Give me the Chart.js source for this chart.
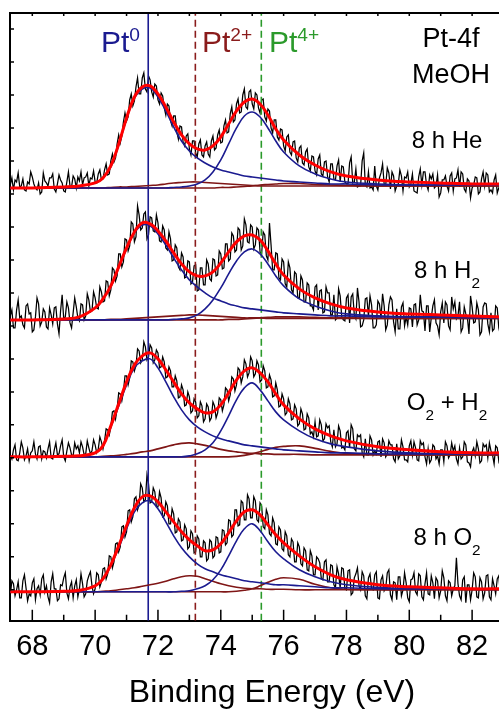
<!DOCTYPE html>
<html>
<head>
<meta charset="utf-8">
<script src="https://cdn.jsdelivr.net/npm/chart.js@4.4.1/dist/chart.umd.min.js"></script>
<style>
  html, body { margin: 0; padding: 0; background: #fff; overflow: hidden; }
  #wrap { width: 499px; height: 715px; overflow: hidden; }
</style>
</head>
<body>
<div id="wrap"><canvas id="chart" width="534" height="715"></canvas></div>
<script>
const FONT = "'Liberation Sans', Arial, Helvetica, sans-serif";

// x axis
const xMin = 67.29;
const xMax = 83.97;
const majorTicks = [68, 70, 72, 74, 76, 78, 80, 82];
const minorTicks = [69, 71, 73, 75, 77, 79, 81, 83];
const yTickValues = [31, 64, 97, 130, 163, 196, 229, 262, 295, 328, 361, 394, 427, 460, 493, 526, 559, 592];

// reference binding energies
const refLines = [
    { e: 71.69, color: '#1b1b90', dash: [] },
    { e: 73.19, color: '#8a1c1c', dash: [7, 4] },
    { e: 75.29, color: '#2b9a2b', dash: [7, 4] }
];

// vertical offset of each spectrum (top to bottom)
const panelOffsets = [433, 301, 164, 29];

// measured spectra, 0.05 eV steps from 67.3 eV
const dataStart = 67.3;
const dataStep = 0.05;

const heData = [
    3, 10, -2, 8, 6, 15, 1, 2, 9, -2,
    -3, 6, 4, 16, 11, 4, 0, -2, 5, -6,
    -4, 15, 7, 5, 2, 10, 10, 14, -1, -4,
    4, 13, 8, 5, -3, -4, 6, 16, 2, 1,
    12, 9, 0, 11, 7, 16, 3, 10, 11, 15,
    2, 10, 9, 17, 6, 5, 14, 18, 8, 9,
    18, 24, 13, 14, 27, 34, 26, 30, 44, 53,
    45, 52, 66, 75, 67, 71, 88, 94, 82, 87,
    101, 110, 94, 94, 110, 115, 99, 96, 112, 108,
    96, 91, 104, 102, 88, 84, 95, 92, 80, 73,
    84, 82, 67, 62, 72, 72, 56, 49, 62, 61,
    46, 42, 52, 54, 39, 33, 47, 47, 35, 31,
    44, 48, 33, 31, 42, 46, 34, 31, 47, 52,
    38, 40, 53, 58, 45, 46, 62, 68, 55, 56,
    74, 81, 66, 68, 84, 89, 75, 76, 93, 99,
    81, 79, 96, 98, 84, 79, 95, 93, 80, 75,
    88, 89, 71, 67, 79, 77, 60, 55, 68, 68,
    51, 48, 59, 58, 42, 37, 51, 53, 36, 33,
    46, 47, 30, 26, 40, 42, 25, 23, 36, 39,
    21, 17, 32, 31, 17, 13, 29, 33, 14, 12,
    26, 27, 11, 6, 24, 24, 9, 8, 22, 28,
    6, 22, 21, 6, 4, 4, 25, 31, 5, 6,
    19, 1, 2, 2, 27, 35, 3, 1, 16, 0,
    1, -2, 22, 2, -2, 10, 15, 24, 4, 3,
    20, 15, -1, 16, 12, -3, 2, 4, 18, 12,
    -3, 11, 10, 16, 1, 4, 14, -3, -4, -5,
    11, 19, 3, 16, 16, 3, -2, 13, 9, 14,
    0, 2, 13, -9, -5, 8, 8, 12, 2, -3,
    12, 15, -3, 9, 10, 18, 1, 16, 14, -1,
    -4, 9, 7, -10, 0, 3, 11, 10, -6, -4,
    9, 16, 2, 15, 13, -4, -2, -5, 8, 13,
    -5, 0, 10, 15, 3
];
const h2Data = [
    4, 10, -8, -8, 10, 20, 2, 4, -5, -8,
    14, 16, 6, 7, -12, -10, 3, 22, 16, -6,
    -2, 11, 8, -7, -9, 12, 5, -4, 12, 13,
    -4, -14, 9, 25, 1, 3, 18, 12, -3, -8,
    7, 22, 13, 2, -1, 16, 15, 0, 4, 26,
    20, 8, 9, 28, 22, 12, 11, 33, 28, 18,
    19, 39, 38, 24, 30, 52, 50, 39, 44, 66,
    66, 53, 58, 81, 80, 69, 74, 98, 96, 78,
    83, 114, 105, 90, 92, 106, 108, 81, 85, 103,
    102, 89, 88, 105, 97, 79, 78, 94, 90, 72,
    70, 88, 81, 59, 60, 75, 72, 53, 50, 67,
    63, 42, 43, 59, 58, 36, 38, 54, 55, 29,
    30, 52, 52, 35, 35, 60, 56, 41, 39, 61,
    60, 44, 45, 69, 66, 51, 52, 76, 76, 59,
    61, 87, 84, 68, 70, 92, 90, 70, 74, 101,
    95, 78, 77, 95, 93, 71, 75, 92, 90, 68,
    66, 88, 85, 64, 60, 97, 75, 50, 50, 67,
    66, 42, 40, 61, 58, 36, 33, 58, 52, 30,
    27, 48, 46, 22, 22, 44, 40, 18, 18, 37,
    35, 14, 14, 10, 33, 35, 10, 29, 30, 7,
    8, 33, 27, 27, 5, 5, 25, 0, 2, 31,
    24, 3, 0, -1, 22, 25, -3, 23, 26, 5,
    1, 32, 18, -7, -6, 0, 21, 22, 4, 24,
    15, -8, -8, -5, 19, 16, 2, 26, 14, -10,
    -5, 15, 23, 20, -2, -12, 11, -9, -9, 13,
    17, -6, 3, -5, 12, 11, -7, 15, 16, -5,
    0, 25, 9, 8, -11, 14, 14, -12, 2, 14,
    20, -3, -6, -15, 8, 17, -3, 18, 15, -6,
    -10, 23, 11, 18, 1, 4, 18, -12, -8, 13,
    6, 2, -14, 24, 13, -3, -2, 17, 10, -15,
    -12, 13, 17, 16, -4, -12, 7, -11, -9, 14,
    12, -8, -15, 9, 5
];
const o2h2Data = [
    2, -2, 7, 12, -3, -4, 4, 15, 9, -3,
    1, 8, -4, 4, 6, 15, 3, -2, 10, 11,
    -2, 6, 5, -1, 8, 15, -1, -2, 7, 14,
    2, 3, 11, 17, 0, -4, 6, 14, 9, 2,
    1, 14, 8, 11, 4, 15, 10, 2, 3, 16,
    9, 3, 6, 17, 12, 4, 8, 20, 15, 8,
    16, 28, 27, 22, 30, 45, 46, 38, 48, 64,
    63, 56, 65, 81, 81, 72, 79, 96, 95, 86,
    91, 108, 106, 94, 97, 115, 110, 97, 100, 112,
    109, 94, 97, 107, 104, 89, 90, 100, 95, 79,
    80, 90, 86, 70, 70, 81, 76, 59, 60, 72,
    67, 51, 52, 65, 60, 44, 46, 58, 55, 39,
    41, 55, 51, 35, 38, 53, 50, 36, 39, 55,
    51, 39, 44, 59, 57, 46, 52, 69, 67, 56,
    62, 80, 78, 66, 72, 89, 87, 74, 80, 97,
    93, 80, 84, 100, 96, 80, 83, 96, 92, 75,
    77, 91, 86, 69, 70, 82, 77, 60, 61, 74,
    67, 50, 51, 63, 58, 42, 44, 58, 53, 37,
    38, 52, 48, 31, 33, 48, 43, 27, 28, 43,
    39, 23, 25, 20, 35, 20, 21, 37, 32, 16,
    18, 33, 29, 31, 15, 10, 27, 10, 13, 31,
    26, 9, 10, 7, 24, 26, 9, 32, 28, 8,
    6, 22, 20, 22, 4, 0, 18, 2, 2, 21,
    17, 2, 6, 3, 15, 16, 0, 18, 14, 0,
    3, 16, 12, 12, -2, -5, 13, -2, 1, 17,
    10, -3, -3, -5, 11, 16, 2, 15, 9, -3,
    -4, 16, 12, 14, 0, -7, 8, -6, -3, 12,
    10, -2, 1, -7, 7, 7, -5, 15, 11, -1,
    2, 14, 6, 11, -2, -7, 9, -2, 0, 15,
    12, -5, -6, -10, 5, 9, 1, 15, 8, -6,
    -4, 13, 10, 12, -1, 14, 6, 2, -7, 11,
    9, -4, 2, 13, 4
];
const o2Data = [
    -3, 11, 8, -4, 2, 10, -6, -6, 11, 17,
    4, -9, -2, -4, 9, 13, -8, 3, 6, -3,
    13, 17, 0, 6, -5, -11, 10, 18, 3, 3,
    -9, -7, 7, 6, 14, 19, -1, -7, 5, 10,
    -6, 6, 12, -5, 3, 18, 8, -5, -2, 11,
    16, 20, 6, -2, 3, 19, 17, 5, 10, 23,
    24, 13, 18, 36, 35, 24, 30, 48, 49, 40,
    45, 65, 66, 55, 60, 81, 82, 70, 75, 93,
    95, 82, 87, 108, 104, 90, 92, 117, 108, 89,
    90, 104, 100, 85, 85, 100, 94, 75, 76, 90,
    86, 68, 68, 83, 78, 59, 60, 73, 70, 51,
    52, 67, 63, 43, 45, 61, 58, 39, 40, 56,
    53, 35, 35, 51, 49, 31, 33, 52, 50, 34,
    36, 55, 54, 39, 40, 62, 61, 47, 49, 72,
    71, 55, 57, 82, 82, 66, 67, 91, 89, 72,
    72, 97, 93, 74, 74, 95, 91, 72, 70, 89,
    86, 65, 63, 82, 77, 58, 56, 74, 69, 48,
    47, 65, 62, 43, 41, 60, 56, 37, 35, 53,
    50, 30, 30, 49, 45, 28, 26, 44, 41, 22,
    21, 41, 36, 17, 17, 35, 33, 29, 13, 12,
    30, 32, 10, 10, 27, 26, 7, 4, 25, 18,
    4, 24, 23, 3, 2, 21, 22, -3, -1, 14,
    18, 24, 6, 2, 20, 16, -4, -7, 14, 18,
    3, 2, 17, 20, -6, -7, 12, 16, 1, 4,
    19, 22, -3, -8, 10, 9, -8, 15, 15, -4,
    2, 19, 9, -6, -10, 12, 13, 19, 0, -3,
    18, 16, -5, -8, 8, 19, -2, -3, 16, 9,
    -7, 14, 11, -6, 1, 21, 14, -4, -9, 11,
    9, -4, 3, 6, 34, 8, -4, -8, 12, 15,
    -11, 7, 7, -8, 2, 19, 15, -5, -6, 14,
    10, -7, -1, 16, 17, -5, -8, 13, 6, -2,
    13, 16, -3, -6, 8
];

// fitted curves, sampled at these energies
const fitE = [67.3, 68, 69, 69.5, 70, 70.25, 70.5, 70.75, 71, 71.25, 71.5, 71.75, 72, 72.25, 72.5, 72.75,
    73, 73.25, 73.5, 73.75, 74, 74.25, 74.5, 74.75, 75, 75.25, 75.5, 75.75, 76, 76.5, 77, 77.5, 78, 79, 80, 81, 82, 83];

const heFit = [0, 0, 1, 2, 5, 10, 22, 44, 70, 91, 101, 102, 94, 81, 66, 53, 44, 39, 38, 42, 51, 64, 77, 86, 89, 84, 73, 59, 48, 33, 23, 16, 12, 8, 6, 5, 4, 4];
const hePt0a = [0, 0, 1, 2, 5, 10, 21, 43, 69, 90, 99, 100, 91, 77, 61, 47, 37, 30, 25, 21, 18, 16, 14, 12, 11, 10, 9, 8, 7, 6, 5, 4, 4, 3, 3, 3, 3, 3];
const hePt0b = [0, 0, 0, 0, 0, 0, 0, 0, 0, 0, 0, 0, 0, 0, 0.5, 1, 2, 4, 8, 16, 28, 44, 60, 72, 76, 71, 60, 47, 36, 22, 14, 9, 6, 4, 3, 3, 3, 3];
const hePt2a = [0, 0, 0, 0, 0, 0, 0.5, 1, 1, 1.5, 2, 2.5, 3, 4, 5, 5.5, 6, 6, 5.5, 5, 4.5, 4, 3.5, 3, 2.5, 2, 2, 2, 2, 2, 2, 2, 2, 2, 2, 2, 2, 2];
const hePt2b = [0, 0, 0, 0, 0, 0, 0, 0, 0, 0, 0, 0, 0, 0, 0, 0, 0, 0, 0, 0, 0.5, 0.5, 1, 1.5, 2, 3, 3.5, 4, 4.5, 4.5, 3.5, 3, 2.5, 2, 2, 2, 2, 2];

const h2Fit = [0, 0, 1, 3, 12, 21, 34, 53, 72, 88, 97, 96, 89, 79, 67, 56, 48, 44, 44, 48, 57, 68, 78, 84, 85, 80, 69, 56, 45, 31, 22, 16, 12, 8, 6, 5, 4, 3];
const h2Pt0a = [0, 0, 1, 3, 12, 21, 33, 52, 71, 87, 95, 94, 86, 75, 62, 50, 40, 33, 27, 22, 19, 16, 14, 12, 11, 10, 9, 8, 7, 6, 5, 4, 4, 3, 3, 3, 3, 3];
const h2Pt0b = [0, 0, 0, 0, 0, 0, 0, 0, 0, 0, 0, 0, 0, 0, 0.5, 1, 2, 5, 11, 20, 32, 46, 59, 68, 71, 66, 56, 44, 34, 21, 14, 9, 6, 4, 3, 3, 2, 2];
const h2Pt2a = [0, 0, 0, 0, 0, 0, 0.5, 0.5, 1, 1.5, 2, 2.5, 3, 3.5, 4, 4.5, 5, 5, 4.5, 4, 3.5, 3, 2.5, 2, 2, 2, 1.5, 1.5, 1.5, 1.5, 1.5, 1.5, 1.5, 1.5, 1.5, 1.5, 1.5, 1.5];
const h2Pt2b = [0, 0, 0, 0, 0, 0, 0, 0, 0, 0, 0, 0, 0, 0, 0, 0, 0, 0, 0, 0, 0, 0.5, 0.5, 1, 1.5, 2, 2.5, 3, 3, 3, 2.5, 2, 2, 1.5, 1.5, 1.5, 1.5, 1.5];

const o2h2Fit = [0, 0, 0.5, 1, 4, 11, 31, 53, 75, 92, 101, 104, 98, 87, 75, 63, 54, 48, 44, 45, 52, 64, 77, 86, 89, 84, 75, 63, 52, 38, 28, 21, 16, 10, 7, 5, 4, 4];
const o2h2Pt0a = [0, 0, 0.5, 1, 4, 11, 30, 51, 72, 89, 96, 98, 89, 75, 60, 47, 37, 30, 25, 21, 18, 16, 14, 12, 11, 10, 9, 8, 7, 6, 5, 4, 4, 3, 3, 3, 3, 3];
const o2h2Pt0b = [0, 0, 0, 0, 0, 0, 0, 0, 0, 0, 0, 0, 0, 0, 0, 0, 1, 3, 7, 14, 26, 41, 57, 69, 74, 67, 56, 45, 37, 26, 18, 13, 10, 6, 4, 3, 3, 3];
const o2h2Pt2a = [0, 0, 0, 0, 0, 0.5, 1, 1.5, 2.5, 3.5, 5, 6, 8, 10, 12, 13.5, 14, 13, 11.5, 9.5, 7.5, 6, 5, 4, 3.5, 3, 3, 2.5, 2.5, 2.5, 2, 2, 2, 2, 2, 2, 2, 2];
const o2h2Pt2b = [0, 0, 0, 0, 0, 0, 0, 0, 0, 0, 0, 0, 0, 0, 0, 0, 0, 0, 0, 0, 0, 0, 0.5, 1.5, 3, 5, 7.5, 9.5, 10.5, 11, 8.5, 5.5, 3.5, 2.5, 2, 2, 2, 2];

const o2Fit = [0, 0, 0.5, 1.5, 6, 13, 27, 46, 66, 84, 95, 96, 90, 80, 70, 60, 52, 46, 41, 42, 48, 59, 71, 80, 82, 77, 67, 57, 49, 36, 25, 17, 12, 7, 5, 4, 3, 3];
const o2Pt0a = [0, 0, 0.5, 1.5, 6, 12.5, 26, 44, 63, 80, 89, 91, 83, 70, 56, 44, 35, 28, 23, 20, 17, 15, 13, 11, 10, 9, 8, 7, 7, 6, 5, 4, 4, 3, 3, 3, 3, 3];
const o2Pt0b = [0, 0, 0, 0, 0, 0, 0, 0, 0, 0, 0, 0, 0, 0, 0, 0.5, 1, 3, 6, 12, 22, 36, 51, 63, 68, 61, 50, 40, 33, 22, 15, 10, 7, 4.5, 3, 3, 2.5, 2.5];
const o2Pt2a = [0, 0, 0, 0, 0, 0.5, 1, 2, 3, 4, 5.5, 7, 8.5, 10.5, 13, 15, 16, 15.5, 13, 10.5, 8, 6, 4.5, 3.5, 3, 3, 2.5, 2.5, 2.5, 2, 2, 2, 2, 2, 2, 2, 2, 2];
const o2Pt2b = [0, 0, 0, 0, 0, 0, 0, 0, 0, 0, 0, 0, 0, 0, 0, 0, 0, 0, 0, 0, 0, 0, 0.5, 1.5, 3, 6, 9.5, 12.5, 14, 12.5, 7.5, 4, 2.5, 2, 2, 2, 2, 2];

const panels = [
    { data: heData, fit: heFit, pt0: [hePt0a, hePt0b], pt2: [hePt2a, hePt2b] },
    { data: h2Data, fit: h2Fit, pt0: [h2Pt0a, h2Pt0b], pt2: [h2Pt2a, h2Pt2b] },
    { data: o2h2Data, fit: o2h2Fit, pt0: [o2h2Pt0a, o2h2Pt0b], pt2: [o2h2Pt2a, o2h2Pt2b] },
    { data: o2Data, fit: o2Fit, pt0: [o2Pt0a, o2Pt0b], pt2: [o2Pt2a, o2Pt2b] }
];

// text: [string, 0 normal | 1 superscript | -1 subscript]
const stateLabels = [
    [['Pt', 0], ['0', 1]],
    [['Pt', 0], ['2+', 1]],
    [['Pt', 0], ['4+', 1]]
];
const headerLabels = ['Pt-4f', 'MeOH'];
const panelLabels = [
    [['8 h He', 0]],
    [['8 h H', 0], ['2', -1]],
    [['O', 0], ['2', -1], [' + H', 0], ['2', -1]],
    [['8 h O', 0], ['2', -1]]
];

const COL_DATA = '#000000';
const COL_FIT = '#ff0000';
const COL_PT0 = '#1b1b90';
const COL_PT2 = '#7f1616';

function lineSet(points, color, width, order, tension) {
    return {
        data: points,
        borderColor: color,
        borderWidth: width,
        pointRadius: 0,
        fill: false,
        tension: tension,
        order: order
    };
}

function buildDatasets() {
    const sets = [];
    panels.forEach((p, k) => {
        const off = panelOffsets[k];
        sets.push(lineSet(fitE.map((e, i) => ({ x: e, y: p.fit[i] + off })), COL_FIT, 3, 0, 0.4));
        p.pt0.forEach(arr => {
            sets.push(lineSet(fitE.map((e, i) => ({ x: e, y: arr[i] + off })), COL_PT0, 1.6, 1, 0.4));
        });
        p.pt2.forEach(arr => {
            sets.push(lineSet(fitE.map((e, i) => ({ x: e, y: arr[i] + off })), COL_PT2, 1.6, 1, 0.4));
        });
        const pts = p.data.map((v, i) => ({ x: +(dataStart + i * dataStep).toFixed(2), y: v + off }));
        sets.push(lineSet(pts, COL_DATA, 1.25, 3, 0));
    });
    refLines.forEach(r => {
        const s = lineSet([{ x: r.e, y: 0 }, { x: r.e, y: 608 }], r.color, 1.6, 2, 0);
        s.borderDash = r.dash;
        sets.push(s);
    });
    return sets;
}

function drawRuns(ctx, runs, x, baseline, size, align, color) {
    const small = size * 0.64;
    const widths = runs.map(([t, s]) => {
        ctx.font = (s ? small : size) + 'px ' + FONT;
        return ctx.measureText(t).width;
    });
    const total = widths.reduce((a, b) => a + b, 0);
    let cx = align === 'center' ? x - total / 2 : x;
    ctx.fillStyle = color;
    ctx.textAlign = 'left';
    ctx.textBaseline = 'alphabetic';
    runs.forEach(([t, s], i) => {
        ctx.font = (s ? small : size) + 'px ' + FONT;
        const dy = s > 0 ? -size * 0.36 : (s < 0 ? size * 0.4 : 0);
        ctx.fillText(t, cx, baseline + dy);
        cx += widths[i];
    });
}

const framePlugin = {
    id: 'frame',
    afterDatasetsDraw(chart) {
        const { ctx, chartArea: a, scales: { x, y } } = chart;
        ctx.save();
        ctx.strokeStyle = '#000';
        ctx.lineWidth = 2;
        ctx.beginPath();
        ctx.moveTo(a.left - 1, a.top);
        ctx.lineTo(a.right, a.top);
        ctx.stroke();
        ctx.lineWidth = 1.5;
        ctx.beginPath();
        majorTicks.forEach(v => {
            const px = x.getPixelForValue(v);
            ctx.moveTo(px, a.bottom);
            ctx.lineTo(px, a.bottom - 11);
            ctx.moveTo(px, a.top);
            ctx.lineTo(px, a.top + 3);
        });
        minorTicks.forEach(v => {
            const px = x.getPixelForValue(v);
            ctx.moveTo(px, a.bottom);
            ctx.lineTo(px, a.bottom - 6);
            ctx.moveTo(px, a.top);
            ctx.lineTo(px, a.top + 3);
        });
        yTickValues.forEach(v => {
            const py = y.getPixelForValue(v);
            ctx.moveTo(a.left, py);
            ctx.lineTo(a.left + 4, py);
        });
        ctx.stroke();
        ctx.restore();
    },
    afterDraw(chart) {
        const ctx = chart.ctx;
        ctx.save();
        drawRuns(ctx, stateLabels[0], 101, 52, 30, 'left', refLines[0].color);
        drawRuns(ctx, stateLabels[1], 202, 52, 30, 'left', refLines[1].color);
        drawRuns(ctx, stateLabels[2], 269, 52, 30, 'left', refLines[2].color);
        drawRuns(ctx, [[headerLabels[0], 0]], 451, 47, 27, 'center', '#000');
        drawRuns(ctx, [[headerLabels[1], 0]], 451, 83, 27, 'center', '#000');
        const baselines = [148, 278, 410, 545];
        panelLabels.forEach((runs, k) => drawRuns(ctx, runs, 447, baselines[k], 24, 'center', '#000'));
        ctx.restore();
    }
};

Chart.defaults.font.family = FONT;

new Chart(document.getElementById('chart'), {
    type: 'line',
    data: { datasets: buildDatasets() },
    options: {
        responsive: false,
        animation: false,
        devicePixelRatio: 1,
        layout: { padding: { left: 10, top: 13, right: 0, bottom: 0 } },
        plugins: { legend: { display: false }, tooltip: { enabled: false } },
        scales: {
            x: {
                type: 'linear',
                min: xMin,
                max: xMax,
                grid: { display: false, drawTicks: false },
                border: { display: true, color: '#000', width: 2 },
                afterBuildTicks: s => { s.ticks = majorTicks.map(v => ({ value: v })); },
                ticks: {
                    font: { size: 29, lineHeight: 1.2 },
                    color: '#000',
                    padding: 9,
                    maxRotation: 0,
                    autoSkip: false,
                    callback: v => String(v)
                },
                title: {
                    display: true,
                    text: 'Binding Energy (eV)',
                    font: { size: 32, lineHeight: 1.2 },
                    color: '#000',
                    padding: { top: 0, bottom: 3 }
                }
            },
            y: {
                type: 'linear',
                min: 0,
                max: 608,
                grid: { display: false, drawTicks: false },
                ticks: { display: false },
                border: { display: true, color: '#000', width: 2 }
            }
        }
    },
    plugins: [framePlugin]
});
</script>
</body>
</html>
